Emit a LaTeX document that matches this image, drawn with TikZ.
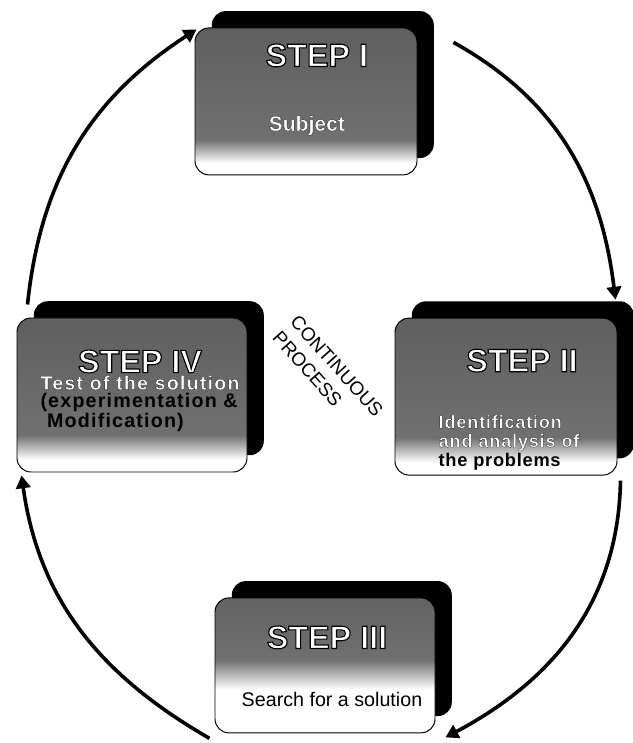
\documentclass[tikz,border=0pt]{standalone}
\usepackage{fontspec}
\setmainfont{Liberation Sans}
\usetikzlibrary{arrows.meta,positioning,calc,shadows}
\usepackage{xcolor}
\definecolor{StepGray}{RGB}{112,112,112}
\pgfdeclareverticalshading{stepfade}{100bp}{color(0bp)=(white); color(29bp)=(white); color(37bp)=(StepGray); color(100bp)=(StepGray!75!black)}
\pgfdeclareverticalshading{stepfadehalf}{100bp}{color(0bp)=(white); color(41bp)=(white); color(52bp)=(StepGray); color(100bp)=(StepGray!75!black)}
\tikzset{
  stepbox/.style={draw, line width=0.7pt, rounded corners=0.35cm,
    shade, shading=stepfade,
    drop shadow={shadow xshift=0.42cm, shadow yshift=0.42cm, fill=black, opacity=1}},
  stephead/.style={font=\fontsize{23}{26}\selectfont\bfseries},
  stepbody/.style={font=\fontsize{13}{13.5}\selectfont\bfseries\addfontfeature{LetterSpace=4},
    align=left, inner sep=0pt},
  arrow/.style={-{Triangle[length=0.32cm,width=0.36cm]}, line width=0.09cm}
}
% white letters with a black outline
\newcommand{\hollow}[2][0.8]{{\special{pdf:code 2 Tr #1 w}\textcolor{white}{\special{pdf:code 0 G}#2}\special{pdf:code 0 Tr}}}

\begin{document}
\begin{tikzpicture}
  \useasboundingbox (0,0) rectangle (15.825,18.575);
  % the four steps
  \node[stepbox, minimum width=5.55cm, minimum height=3.675cm] (s1) at (7.65,16.04) {};
  \node[stepbox, minimum width=5.55cm, minimum height=3.925cm] (s2) at (12.65,8.66) {};
  \node[stepbox, shading=stepfadehalf, minimum width=5.5cm, minimum height=3.375cm] (s3) at (8.125,1.94) {};
  \node[stepbox, minimum width=5.75cm, minimum height=3.85cm] (s4) at (3.3,8.7) {};

  \node[stephead] (h1) at ($(s1.north)+(0.27,-0.7)$) {\hollow{STEP I}};
  \node[stepbody, font=\fontsize{15}{17}\selectfont\bfseries] (b1) at ($(s1.north)+(0.02,-2.45)$) {\hollow[0.15]{Subject}};

  \node[stephead] (h2) at ($(s2.north)+(0.4,-1.075)$) {\hollow{STEP II}};
  \node[stepbody] (b2) at ($(s2.north)+(0.075,-3.12)$)
    {\hollow[0.15]{Identification}\\\hollow[0.15]{and analysis of}\\the problems};

  \node[stephead] (h3) at ($(s3.north)+(0.05,-1.0)$) {\hollow{STEP III}};
  \node[font=\fontsize{14}{16}\selectfont, inner sep=0pt] (b3) at ($(s3.north)+(0.175,-2.55)$) {Search for a solution};

  \node[stephead] (h4) at ($(s4.north)+(0.2,-1.1)$) {\hollow{STEP IV}};
  \node[stepbody, font=\fontsize{14}{12.8}\selectfont\bfseries\addfontfeature{LetterSpace=6}] (b4)
    at ($(s4.north)+(0.2,-2.15)$)
    {\hollow[0.15]{Test of the solution}\\(experimentation \&\\\ Modification)};

  \node[font=\fontsize{13.5}{17}\selectfont, rotate=-48, align=left] (cp) at (8.2,9.225)
    {CONTINUOUS\\PROCESS};

  % the cycle
  \draw[arrow] ($(s1.north east)+(0.9,-0.375)$) to[out=-29, in=97] ($(s2.north east)+(-0.05,0.45)$);
  \draw[arrow] ($(s2.south east)+(0.075,-0.125)$) to[out=-91, in=28] ($(s3.south east)+(0.25,-0.1)$);
  \draw[arrow] ($(s3.south west)+(-0.125,-0.125)$) to[out=150, in=-82] ($(s4.south west)+(0.125,-0.075)$);
  \draw[arrow] ($(s4.north west)+(0.275,0.325)$) to[out=84, in=213] ($(s1.north west)+(0.05,-0.05)$);
\end{tikzpicture}
\end{document}
